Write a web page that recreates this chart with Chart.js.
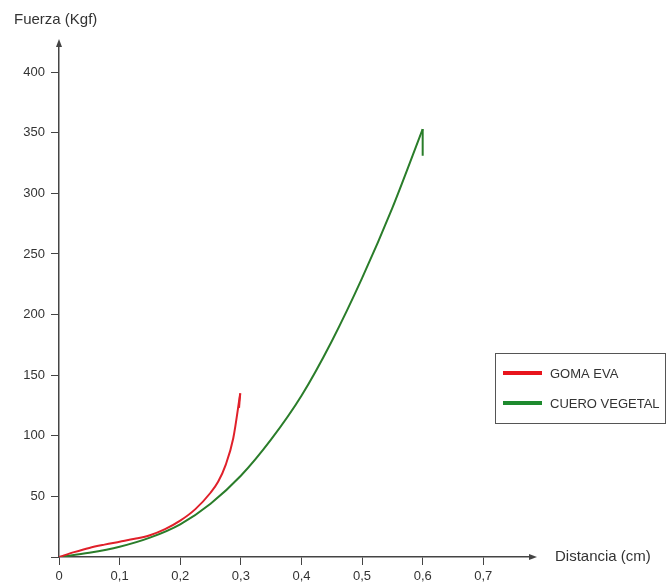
<!DOCTYPE html>
<html>
<head>
<meta charset="utf-8">
<script src="https://cdn.jsdelivr.net/npm/chart.js@4.4.0/dist/chart.umd.min.js"></script>
<style>
html,body{margin:0;padding:0;background:#fff;}
#wrap{position:relative;width:667px;height:586px;}
</style>
</head>
<body>
<div id="wrap"><canvas id="c" width="667" height="586"></canvas></div>
<script>
// ---- data ----
const gomaX = [0, 0.025, 0.05, 0.075, 0.1, 0.125, 0.15, 0.175, 0.2, 0.225, 0.25, 0.2625, 0.275, 0.2875, 0.299, 0.297];
const gomaY = [0, 4, 7.5, 10.2, 12.6, 15, 18, 23, 30, 39.5, 53, 62, 76, 98, 135, 123];
const cueroX = [0, 0.05, 0.1, 0.15, 0.2, 0.25, 0.3, 0.35, 0.4, 0.45, 0.5, 0.55, 0.6, 0.6];
const cueroY = [0, 3.5, 8.5, 16, 27, 44, 67, 97, 133, 178, 230, 288, 353, 331];
const xTicks = [0, 0.1, 0.2, 0.3, 0.4, 0.5, 0.6, 0.7];
const yTicks = [0, 50, 100, 150, 200, 250, 300, 350, 400];
const seriesNames = ['GOMA EVA', 'CUERO VEGETAL'];
const xTitle = 'Distancia (cm)';
const yTitle = 'Fuerza (Kgf)';

const FONT = 'Arial, "Liberation Sans", sans-serif';
const TXT = '#333333';
const AX = '#444444';
const RED = '#e0202a';
const GREEN = '#2a7d2a';
const LEG_RED = '#e8141c';
const LEG_GREEN = '#1e8a2e';

const toPts = (xs, ys) => xs.map((x, i) => ({x: x, y: ys[i]}));
// split a series at its peak: the rising curve (smooth) and the final drop (straight)
function splitAtPeak(xs, ys) {
  const pts = toPts(xs, ys);
  let k = 0;
  ys.forEach((v, i) => { if (v > ys[k]) k = i; });
  return {rise: pts.slice(0, k + 1), drop: pts.slice(k)};
}
const goma = splitAtPeak(gomaX, gomaY);
const cuero = splitAtPeak(cueroX, cueroY);

const decorations = {
  id: 'decorations',
  afterDraw(chart) {
    const ctx = chart.ctx;
    const a = chart.chartArea;
    ctx.save();
    // arrow heads
    ctx.fillStyle = AX;
    ctx.beginPath();
    ctx.moveTo(a.left, a.top - 4);
    ctx.lineTo(a.left - 3, a.top + 4);
    ctx.lineTo(a.left + 3, a.top + 4);
    ctx.closePath();
    ctx.fill();
    ctx.beginPath();
    ctx.moveTo(a.right + 4, a.bottom);
    ctx.lineTo(a.right - 4, a.bottom - 3);
    ctx.lineTo(a.right - 4, a.bottom + 3);
    ctx.closePath();
    ctx.fill();
    // axis titles
    ctx.fillStyle = TXT;
    ctx.font = '15px ' + FONT;
    ctx.textBaseline = 'middle';
    ctx.textAlign = 'left';
    ctx.fillText(yTitle, 14, 20);
    ctx.fillText(xTitle, a.right + 22, a.bottom);
    // legend
    const lx = 495, ly = 353, lw = 170, lh = 70;
    ctx.strokeStyle = '#555';
    ctx.lineWidth = 1;
    ctx.strokeRect(lx + 0.5, ly + 0.5, lw, lh);
    ctx.font = '13px ' + FONT;
    const items = [[seriesNames[0], LEG_RED], [seriesNames[1], LEG_GREEN]];
    items.forEach((it, i) => {
      const yy = ly + 20 + i * 30;
      ctx.strokeStyle = it[1];
      ctx.lineWidth = 4;
      ctx.beginPath();
      ctx.moveTo(lx + 8, yy);
      ctx.lineTo(lx + 47, yy);
      ctx.stroke();
      ctx.fillStyle = TXT;
      ctx.fillText(it[0], lx + 55, yy + 1);
    });
    ctx.restore();
  }
};

const base = {borderWidth: 2, pointRadius: 0, fill: false};
new Chart(document.getElementById('c'), {
  type: 'line',
  data: {
    datasets: [
      Object.assign({label: seriesNames[0], data: goma.rise, borderColor: RED, cubicInterpolationMode: 'monotone'}, base),
      Object.assign({label: seriesNames[0] + ' (drop)', data: goma.drop, borderColor: RED, tension: 0}, base),
      Object.assign({label: seriesNames[1], data: cuero.rise, borderColor: GREEN, cubicInterpolationMode: 'monotone'}, base),
      Object.assign({label: seriesNames[1] + ' (drop)', data: cuero.drop, borderColor: GREEN, tension: 0}, base)
    ]
  },
  options: {
    responsive: false,
    animation: false,
    layout: {padding: {top: 43, right: 134, left: 0, bottom: 0}},
    plugins: {legend: {display: false}, tooltip: {enabled: false}},
    scales: {
      x: {
        type: 'linear', min: 0, max: 0.782,
        afterBuildTicks: s => { s.ticks = xTicks.map(v => ({value: v})); },
        afterFit: s => { s.height = 29; },
        grid: {drawOnChartArea: false, drawTicks: true, tickLength: 8, tickColor: AX, tickWidth: 1},
        border: {display: true, color: AX, width: 1.5},
        ticks: {
          color: TXT, font: {size: 13, family: FONT}, padding: 4, maxRotation: 0, autoSkip: false,
          callback: v => String(v).replace('.', ',')
        }
      },
      y: {
        type: 'linear', min: 0, max: 424,
        afterBuildTicks: s => { s.ticks = yTicks.map(v => ({value: v})); },
        afterFit: s => { s.width = 59; },
        grid: {drawOnChartArea: false, drawTicks: true, tickLength: 8, tickColor: AX, tickWidth: 1},
        border: {display: true, color: AX, width: 1.5},
        ticks: {
          color: TXT, font: {size: 13, family: FONT}, padding: 6, autoSkip: false,
          callback: v => v === 0 ? '' : String(v)
        }
      }
    }
  },
  plugins: [decorations]
});
</script>
</body>
</html>
